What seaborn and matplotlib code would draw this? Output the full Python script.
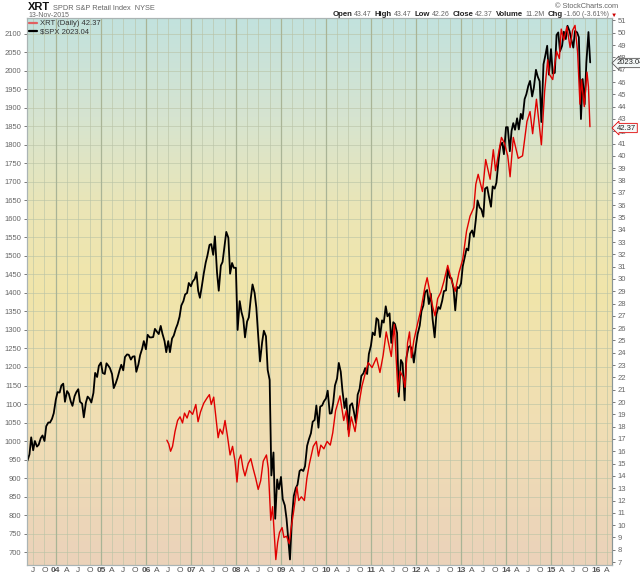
import numpy as np
import pandas as pd
import matplotlib
matplotlib.use("Agg")
import matplotlib.pyplot as plt
import matplotlib.dates as mdates
from matplotlib.lines import Line2D
import seaborn as sns

# $SPX, values on the 1st and 15th of each month, from 15-May-2003 to 15-Nov-2015
spx_close = [
    946, 964, 1010, 975, 1000, 985, 990, 1008, 1015, 1000, 1040, 1050, 1050, 1060, 1075,            # 2003
    1112, 1132, 1131, 1150, 1155, 1106, 1135, 1128, 1107, 1095, 1121, 1132,
    1140, 1106, 1101, 1064, 1104, 1120, 1114, 1104, 1130, 1184, 1173, 1203,                         # 2004
    1212, 1184, 1181, 1210, 1204, 1197, 1181, 1143, 1156, 1170, 1191, 1206,
    1191, 1227, 1234, 1233, 1220, 1228, 1229, 1187, 1207, 1232, 1249, 1270,                         # 2005
    1248, 1287, 1280, 1280, 1281, 1303, 1295, 1289, 1311, 1290, 1270, 1240,
    1270, 1240, 1277, 1285, 1304, 1316, 1336, 1366, 1378, 1396, 1400, 1427,                         # 2006
    1418, 1431, 1438, 1456, 1406, 1387, 1421, 1452, 1482, 1501, 1530, 1532,
    1503, 1553, 1455, 1406, 1474, 1484, 1527, 1565, 1549, 1452, 1481, 1468,                         # 2007
    1468, 1300, 1378, 1349, 1330, 1280, 1323, 1334, 1386, 1423, 1400, 1360,
    1280, 1215, 1267, 1298, 1283, 1192, 1165, 907, 969, 790, 896, 870,                              # 2008
    903, 843, 826, 790, 735, 680, 798, 852, 873, 882, 919, 923,
    919, 932, 987, 1004, 1021, 1052, 1057, 1096, 1036, 1093, 1096, 1107,                            # 2009
    1115, 1136, 1074, 1075, 1104, 1150, 1169, 1211, 1187, 1135, 1089, 1115,
    1031, 1096, 1102, 1080, 1049, 1125, 1141, 1176, 1183, 1197, 1181, 1235,                         # 2010
    1258, 1293, 1286, 1332, 1327, 1281, 1326, 1320, 1364, 1337, 1345, 1265,
    1321, 1316, 1292, 1120, 1219, 1210, 1110, 1224, 1253, 1257, 1247, 1212,                         # 2011
    1258, 1289, 1312, 1351, 1366, 1402, 1408, 1370, 1398, 1330, 1280, 1342,
    1362, 1357, 1379, 1405, 1407, 1465, 1441, 1440, 1412, 1353, 1416, 1413,                         # 2012
    1426, 1472, 1498, 1520, 1515, 1560, 1569, 1552, 1598, 1650, 1631, 1626,
    1606, 1682, 1686, 1661, 1633, 1688, 1682, 1698, 1757, 1798, 1806, 1775,                         # 2013
    1848, 1848, 1783, 1838, 1859, 1841, 1872, 1842, 1884, 1870, 1924, 1937,
    1960, 1973, 1931, 1955, 2003, 1985, 1972, 1862, 2018, 2040, 2068, 1990,                         # 2014
    2059, 1993, 1995, 2097, 2104, 2053, 2068, 2106, 2086, 2122, 2107, 2085,
    2063, 2108, 2104, 2091, 1870, 1978, 1910, 2023, 2105, 2023,                                     # 2015
]

xrt_dates = [
    "2006-06-20", "2006-07-05", "2006-07-20", "2006-08-05", "2006-08-25", "2006-09-15",
    "2006-10-05", "2006-10-25", "2006-11-10", "2006-12-01", "2006-12-20", "2007-01-15",
    "2007-02-10", "2007-02-28", "2007-03-20", "2007-04-15", "2007-05-10", "2007-05-31",
    "2007-06-15", "2007-07-05", "2007-07-25", "2007-08-10", "2007-08-25", "2007-09-15",
    "2007-10-05", "2007-10-25", "2007-11-15", "2007-12-05", "2007-12-25", "2008-01-10",
    "2008-01-25", "2008-02-10", "2008-02-28", "2008-03-15", "2008-04-10", "2008-05-01",
    "2008-05-20", "2008-06-10", "2008-06-30", "2008-07-20", "2008-08-10", "2008-09-05",
    "2008-09-20", "2008-10-10", "2008-10-25", "2008-11-20", "2008-12-05", "2008-12-20",
    "2009-01-10", "2009-01-25", "2009-02-15", "2009-03-09", "2009-03-25", "2009-04-15",
    "2009-05-10", "2009-05-25", "2009-06-15", "2009-07-10", "2009-07-30", "2009-08-20",
    "2009-09-20", "2009-10-15", "2009-11-01", "2009-11-20", "2009-12-15", "2010-01-10",
    "2010-02-05", "2010-02-25", "2010-03-20", "2010-04-25", "2010-05-25", "2010-06-15",
    "2010-07-05", "2010-07-25", "2010-08-25", "2010-09-20", "2010-10-20", "2010-11-15",
    "2010-12-10", "2011-01-10", "2011-02-15", "2011-03-15", "2011-04-10", "2011-05-05",
    "2011-06-15", "2011-07-10", "2011-08-08", "2011-08-25", "2011-09-20", "2011-10-04",
    "2011-10-25", "2011-11-10", "2011-11-25", "2011-12-15", "2012-01-15", "2012-02-10",
    "2012-03-15", "2012-04-01", "2012-04-20", "2012-05-15", "2012-06-04", "2012-06-25",
    "2012-07-20", "2012-08-15", "2012-09-15", "2012-10-15", "2012-11-15", "2012-12-15",
    "2013-01-15", "2013-02-15", "2013-03-15", "2013-04-15", "2013-05-01", "2013-05-20",
    "2013-06-24", "2013-07-20", "2013-08-25", "2013-09-20", "2013-10-08", "2013-11-01",
    "2013-11-25", "2013-12-20", "2014-01-15", "2014-02-03", "2014-03-01", "2014-04-10",
    "2014-05-15", "2014-06-20", "2014-07-15", "2014-08-05", "2014-09-05", "2014-10-15",
    "2014-11-10", "2014-12-05", "2014-12-20", "2015-01-15", "2015-02-15", "2015-03-10",
    "2015-03-25", "2015-04-15", "2015-05-10", "2015-06-05", "2015-06-25", "2015-07-15",
    "2015-08-05", "2015-08-24", "2015-09-05", "2015-09-28", "2015-10-20", "2015-11-01",
    "2015-11-13",
]
xrt_close = [
    16.9, 16.6, 16.0, 16.4, 17.6, 18.5,
    18.8, 18.3, 19.1, 18.7, 19.3, 19.0,
    19.8, 18.4, 19.2, 19.9, 20.3, 20.6,
    19.8, 20.4, 18.6, 17.1, 17.8, 17.4,
    18.5, 17.2, 15.7, 16.4, 15.2, 13.5,
    15.3, 15.7, 14.6, 14.0, 15.0, 15.4,
    14.6, 13.8, 12.9, 13.6, 15.2, 15.7,
    14.6, 10.4, 11.5, 7.2, 8.6, 9.4,
    9.8, 9.0, 9.1, 8.5, 9.8, 11.2,
    13.1, 12.0, 12.3, 12.0, 13.8, 15.0,
    16.4, 16.8, 15.6, 16.5, 16.2, 16.8,
    16.5, 17.5, 19.3, 20.5, 18.5, 19.3,
    17.2, 18.8, 17.6, 19.5, 21.3, 22.3,
    23.2, 22.8, 23.6, 22.4, 23.8, 25.7,
    23.7, 26.3, 20.8, 22.5, 22.0, 21.2,
    24.8, 25.7, 23.6, 25.0, 26.4, 27.5,
    29.4, 30.1, 29.1, 27.8, 27.0, 28.4,
    28.9, 29.8, 31.1, 29.9, 29.0, 30.5,
    31.6, 33.9, 35.1, 35.8, 37.7, 38.5,
    37.1, 39.7, 38.1, 40.5, 38.8, 40.2,
    41.5, 41.0, 40.0, 38.3, 41.5, 39.8,
    40.0, 42.8, 43.6, 41.8, 44.6, 40.9,
    45.2, 47.8, 46.6, 46.2, 48.5, 47.9,
    50.3, 49.4, 50.5, 48.8, 50.2, 50.6,
    48.4, 44.2, 46.2, 44.0, 46.8, 45.6,
    42.37,
]

spx_ticks = list(range(700, 2101, 50))
xrt_ticks = list(range(7, 52))

W, H = 640, 576

sns.set_style("white")
plt.rcParams['font.family'] = ['Liberation Sans', 'DejaVu Sans']

spx = pd.DataFrame({'date': pd.date_range('2003-05-15', periods=len(spx_close), freq='SMS'),
                    'close': spx_close})
xrt = pd.DataFrame({'date': pd.to_datetime(xrt_dates), 'close': xrt_close})

fig = plt.figure(figsize=(W / 100, H / 100), dpi=100)
pos = [27 / W, 1 - 565 / H, (612 - 27) / W, (565 - 18) / H]

# gradient background behind the plot
bg = fig.add_axes(pos, zorder=-1)
stops = [(0.0, (235, 210, 186)), (0.25, (240, 222, 180)), (0.5, (241, 229, 170)),
         (0.65, (235, 230, 182)), (0.82, (214, 228, 208)), (1.0, (194, 226, 222))]
fr = np.linspace(0, 1, 256)
grad = np.stack([np.interp(fr, [s[0] for s in stops], [s[1][c] for s in stops]) for c in range(3)], axis=1) / 255
bg.imshow(grad[::-1][:, None, :], aspect='auto', extent=[0, 1, 0, 1])
bg.axis('off')

ax = fig.add_axes(pos)
ax.patch.set_alpha(0)
ax2 = ax.twinx()

sns.lineplot(data=spx, x='date', y='close', ax=ax, color='black', lw=1.3, estimator=None, sort=False)
sns.lineplot(data=xrt, x='date', y='close', ax=ax2, color='#e00000', lw=1.0, estimator=None, sort=False)

ax.set_xlim(pd.Timestamp('2003-05-12'), pd.Timestamp('2016-05-10'))
ax.set_ylim(665, 2143)
ax2.set_ylim(6.76, 51.2)
for a in (ax, ax2):
    a.set_xlabel('')
    a.set_ylabel('')

# x ticks: quarters, with the year on January
ax.xaxis.set_major_locator(mdates.MonthLocator(bymonth=[1, 4, 7, 10]))
ax.xaxis.set_major_formatter(mdates.DateFormatter('%b'))
fig.canvas.draw()
qlabels = []
for t in ax.get_xticks():
    d = mdates.num2date(t)
    qlabels.append(d.strftime('%y') if d.month == 1 else d.strftime('%b')[0])
ax.set_xticks(ax.get_xticks())
ax.set_xticklabels(qlabels)
for lab, t in zip(ax.get_xticklabels(), ax.get_xticks()):
    if mdates.num2date(t).month == 1:
        lab.set_fontweight('bold')
        lab.set_color('#222222')
ax.tick_params(axis='x', labelsize=6, colors='#555555', length=0, pad=1.5)

ax.set_yticks(spx_ticks)
ax.tick_params(axis='y', labelsize=5.5, colors='#666666', length=2.5, width=0.6, pad=1.5)
ax2.set_yticks(xrt_ticks)
ax2.tick_params(axis='y', labelsize=5.5, colors='#666666', length=2.5, width=0.6, pad=1.5)

ax.set_axisbelow(True)
ax.grid(True, axis='both', color='#b9c3a6', lw=0.6, alpha=0.7)
for t, lab in zip(ax.get_xticks(), qlabels):
    if lab.isdigit():
        ax.axvline(t, color='#a9b496', lw=0.9, zorder=0.6)

for a in (ax, ax2):
    for s in a.spines.values():
        s.set_color('#aab4b4')
        s.set_linewidth(0.8)
ax2.spines['right'].set_color('#8a9696')

# legend
handles = [Line2D([], [], color='#e06060', lw=1.6), Line2D([], [], color='black', lw=1.6)]
leg = ax2.legend(handles, ['XRT (Daily) 42.37', r'\$SPX 2023.04'], loc='upper left',
                 fontsize=5.5, frameon=False, handlelength=1.1, handletextpad=0.4,
                 labelspacing=0.1, borderaxespad=0.15, borderpad=0.1)
for txt in leg.get_texts():
    txt.set_color('#333333')

# last-value tags on the right edge
fig.text(617 / W, 1 - 63 / H, '2023.04', fontsize=5.5, color='#222222', va='center', ha='left',
         bbox=dict(boxstyle='larrow,pad=0.15', fc='#f4f8f8', ec='#555555', lw=0.6))
fig.text(617 / W, 1 - 128 / H, '42.37', fontsize=5.5, color='#222222', va='center', ha='left',
         bbox=dict(boxstyle='larrow,pad=0.15', fc='#f4f8f8', ec='#e00000', lw=0.6))

# header
renderer = fig.canvas.get_renderer()


def put_row(x, y, pieces, right=False):
    texts = []
    cur = x
    for s, weight, color, size, gap in pieces:
        t = fig.text(cur / W, 1 - y / H, s, fontsize=size, fontweight=weight, color=color,
                     va='baseline', ha='left')
        texts.append(t)
        cur += t.get_window_extent(renderer).width + gap
    if right:
        shift = (cur - x) / W
        for t in texts:
            px, py = t.get_position()
            t.set_position((px - shift, py))


put_row(28, 10.5, [('XRT', 'bold', '#111111', 8, 3),
                   ('SPDR S&P Retail Index  NYSE', 'normal', '#666666', 5.3, 0)])
fig.text(28 / W, 1 - 17 / H, '13-Nov-2015', fontsize=5, color='#666666', va='baseline')
fig.text(618 / W, 1 - 8 / H, '\u00a9 StockCharts.com', fontsize=5.3, color='#666666',
         va='baseline', ha='right')
put_row(617, 16.5, [('Open', 'bold', '#222222', 5.6, 1.5), ('43.47', 'normal', '#666666', 5, 3.5),
                    ('High', 'bold', '#222222', 5.6, 1.5), ('43.47', 'normal', '#666666', 5, 3.5),
                    ('Low', 'bold', '#222222', 5.6, 1.5), ('42.26', 'normal', '#666666', 5, 3.5),
                    ('Close', 'bold', '#222222', 5.6, 1.5), ('42.37', 'normal', '#666666', 5, 3.5),
                    ('Volume', 'bold', '#222222', 5.6, 1.5), ('11.2M', 'normal', '#666666', 5, 3.5),
                    ('Chg', 'bold', '#222222', 5.6, 1.5), ('-1.60 (-3.61%)', 'normal', '#666666', 5, 1.5),
                    ('\u25bc', 'normal', '#cc0000', 4.5, 0)], right=True)

fig.savefig('out.png', dpi=100)
